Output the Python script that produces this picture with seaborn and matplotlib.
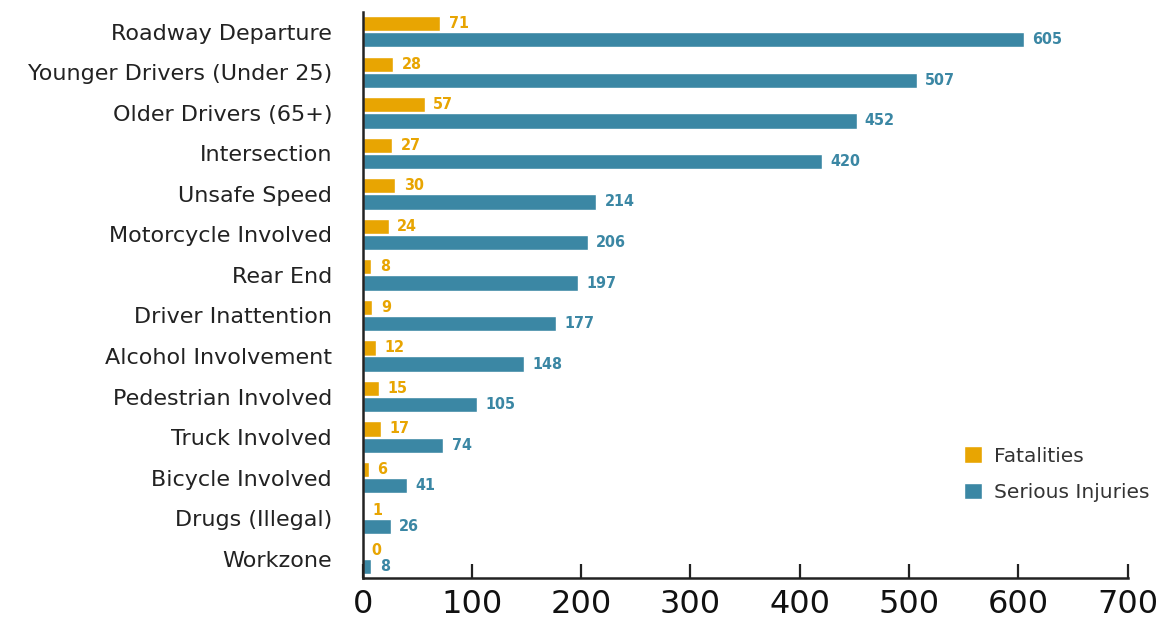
import matplotlib
matplotlib.use("Agg")
import matplotlib.pyplot as plt
import seaborn as sns
import pandas as pd

categories = [
    "Roadway Departure", "Younger Drivers (Under 25)", "Older Drivers (65+)",
    "Intersection", "Unsafe Speed", "Motorcycle Involved", "Rear End",
    "Driver Inattention", "Alcohol Involvement", "Pedestrian Involved",
    "Truck Involved", "Bicycle Involved", "Drugs (Illegal)", "Workzone",
]
fatalities = [71, 28, 57, 27, 30, 24, 8, 9, 12, 15, 17, 6, 1, 0]
serious_injuries = [605, 507, 452, 420, 214, 206, 197, 177, 148, 105, 74, 41, 26, 8]
series = ["Fatalities", "Serious Injuries"]
colors = ["#E8A502", "#3B87A4"]
x_ticks = [0, 100, 200, 300, 400, 500, 600, 700]

df = pd.DataFrame({
    "category": categories * 2,
    "count": fatalities + serious_injuries,
    "series": [series[0]] * len(categories) + [series[1]] * len(categories),
})

sns.set_theme(style="white")
plt.rcParams["font.family"] = ["DejaVu Sans"]

fig = plt.figure(figsize=(11.66, 6.23), dpi=100)
ax = fig.add_axes([0.311, 0.072, 0.656, 0.909])

sns.barplot(
    data=df, y="category", x="count", hue="series", order=categories,
    hue_order=series, palette=colors, orient="h", width=0.8, gap=0.06,
    saturation=1, ax=ax, legend=True,
)

for container, col in zip(ax.containers, colors):
    ax.bar_label(container, labels=[str(int(v)) for v in container.datavalues],
                 padding=6, color=col, fontsize=11.5, fontweight="bold",
                 fontstretch="condensed")

ax.set_xlim(0, 700)
ax.set_ylim(13.48, -0.49)
ax.set_xticks(x_ticks)
ax.set_xticklabels([str(t) for t in x_ticks], fontsize=23, color="#111111")
ax.tick_params(axis="x", bottom=True, direction="in", length=10, width=1.6,
               color="#222222", pad=8)
ax.tick_params(axis="y", left=False, length=0, labelsize=16,
               labelcolor="#222222", pad=22)
ax.set_xlabel("")
ax.set_ylabel("")

for side in ["top", "right"]:
    ax.spines[side].set_visible(False)
for side in ["left", "bottom"]:
    ax.spines[side].set_color("#222222")
    ax.spines[side].set_linewidth(1.8)

leg = ax.legend(
    loc="upper left", bbox_to_anchor=(0.762, 0.265), frameon=False,
    fontsize=14.5, handlelength=0.9, handleheight=0.9, handletextpad=0.6,
    labelspacing=0.85, labelcolor="#333333",
)

fig.savefig("out.png", dpi=100)
